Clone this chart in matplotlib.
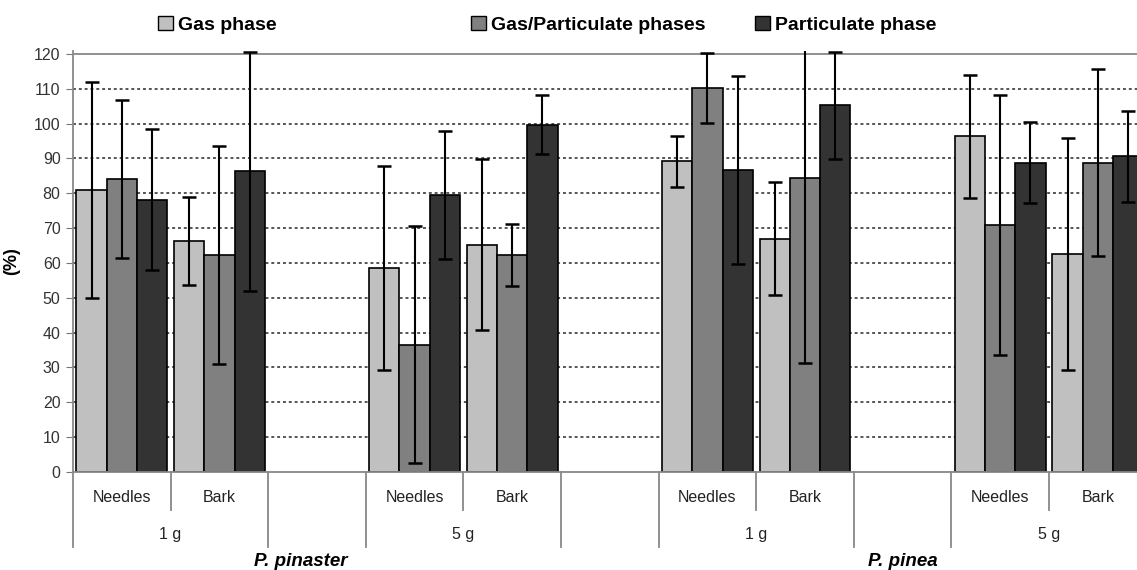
import numpy as np
import matplotlib
matplotlib.use("Agg")
import matplotlib.pyplot as plt
from matplotlib.patches import Patch

plt.rcParams['font.family'] = ['Liberation Sans', 'DejaVu Sans']

# 値は図から読み取り (%)
species = ["P. pinaster", "P. pinea"]
masses = ["1 g", "5 g"]
parts = ["Needles", "Bark"]

gas = [81.0, 66.3, 58.6, 65.3, 89.2, 67.0, 96.4, 62.5]
gas_err = [31.0, 12.7, 29.2, 24.6, 7.3, 16.2, 17.6, 33.3]
gas_part = [84.1, 62.3, 36.5, 62.2, 110.2, 84.3, 70.9, 88.8]
gas_part_err = [22.6, 31.4, 34.0, 8.9, 10.0, 52.9, 37.3, 26.9]
particulate = [78.2, 86.3, 79.5, 99.7, 86.6, 105.3, 88.8, 90.6]
particulate_err = [20.3, 34.4, 18.4, 8.5, 27.0, 15.4, 11.6, 13.1]

series_names = ["Gas phase", "Gas/Particulate phases", "Particulate phase"]
colors = ["#c0c0c0", "#808080", "#333333"]


def slot_positions():
    # 各 mass グループの後に空のスロットを入れる (Excel の多段カテゴリ風)
    pos = []
    s = 0
    for sp in species:
        for m in masses:
            for p in parts:
                pos.append(s)
                s += 1
            s += 1
    return np.array(pos), s - 1


def main():
    pos, nslots = slot_positions()

    fig = plt.figure(figsize=(11.37, 5.70), dpi=100)
    ax = fig.add_axes([73 / 1137, 98 / 570, 1073.6 / 1137, 421.5 / 570])

    w = 0.31
    data = [(gas, gas_err), (gas_part, gas_part_err), (particulate, particulate_err)]
    for i, (vals, errs) in enumerate(data):
        x = pos + (i - 1) * w
        ax.bar(x, vals, width=w, color=colors[i], edgecolor="black", linewidth=1.2, zorder=2)
        ax.errorbar(x, vals, yerr=errs, fmt="none", ecolor="black", elinewidth=1.5,
                    capsize=5, capthick=1.8, zorder=3)

    ax.set_xlim(-0.5, nslots - 0.5)
    ax.set_ylim(0, 121)
    ax.set_yticks(np.arange(0, 121, 10))
    ax.tick_params(axis="y", direction="out", length=5, color="#777777",
                   labelsize=11.5, labelcolor="#333333", pad=4)
    ax.set_xticks([])
    for g in np.arange(10, 120, 10):
        ax.axhline(g, color="#555555", lw=1.4, ls=(0, (1.5, 1.5)), zorder=1)
    ax.axhline(120, color="#888888", lw=1.3, zorder=1)

    for side in ["top", "right"]:
        ax.spines[side].set_visible(False)
    ax.spines["left"].set_color("#888888")
    ax.spines["bottom"].set_color("#888888")
    ax.spines["left"].set_linewidth(1.3)
    ax.spines["bottom"].set_linewidth(1.3)

    ax.set_ylabel("(%)", fontsize=13, fontweight="bold", labelpad=10)

    # 下のカテゴリラベルと区切り線
    trans = ax.get_xaxis_transform()
    ax_h = 421.5
    short = -38 / ax_h
    long_ = -75 / ax_h
    k = 0
    for sp_i, sp in enumerate(species):
        start = pos[k]
        for m in masses:
            p0 = pos[k]
            for p in parts:
                ax.text(pos[k], -25 / ax_h, p, transform=trans, ha="center", va="center",
                        fontsize=11.5, color="#222222")
                k += 1
            ax.plot([p0 - 0.5, p0 - 0.5], [0, long_], transform=trans, color="#888888",
                    lw=1.3, clip_on=False)
            ax.plot([p0 + 0.5, p0 + 0.5], [0, short], transform=trans, color="#888888",
                    lw=1.3, clip_on=False)
            ax.plot([p0 + 1.5, p0 + 1.5], [0, long_], transform=trans, color="#888888",
                    lw=1.3, clip_on=False)
            ax.text(p0 + 0.5, -63 / ax_h, m, transform=trans, ha="center", va="center",
                    fontsize=11.5, color="#222222")
        end = pos[k - 1]
        xc = (start + end) / 2 - (0.17 if sp_i == 0 else 0.0)
        ax.text(xc, -89 / ax_h, sp, transform=trans, ha="center", va="center",
                fontsize=13.5, fontweight="bold", fontstyle="italic")

    # 凡例 (間隔が不揃いなので一つずつ置く)
    leg_x = [158 / 1137, 471 / 1137, 755 / 1137]
    for i, name in enumerate(series_names):
        h = Patch(facecolor=colors[i], edgecolor="black", linewidth=1.0)
        fig.legend([h], [name], loc="center left", bbox_to_anchor=(leg_x[i], 1 - 25 / 570),
                   frameon=False, borderpad=0, borderaxespad=0, handlelength=0.75,
                   handleheight=0.75, handletextpad=0.3,
                   prop={"size": 14, "weight": "bold"})

    fig.savefig("out.png", dpi=100)


if __name__ == '__main__':
    main()
